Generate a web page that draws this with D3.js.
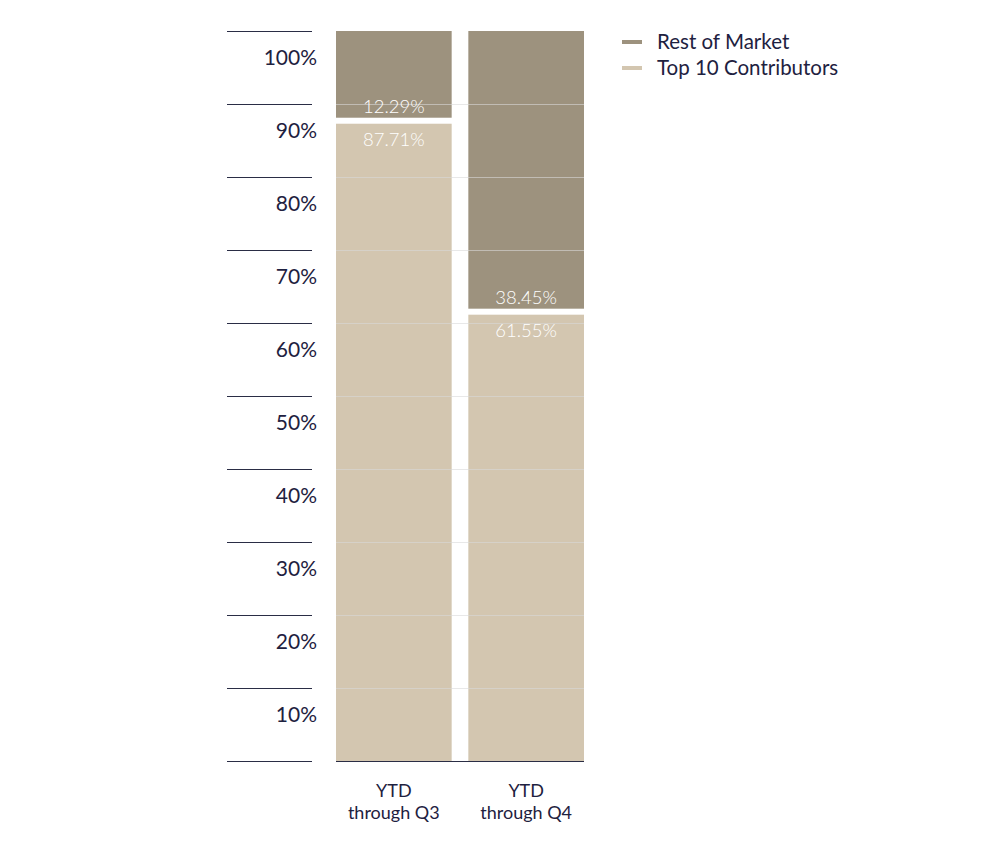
<!DOCTYPE html>
<html><head><meta charset="utf-8">
<script src="https://cdn.jsdelivr.net/npm/d3@7"></script>
<style>body{margin:0;background:#fff;} svg{display:block;font-family:"Lato","Open Sans",sans-serif;}</style>
</head><body>
<svg id="c" width="1000" height="846"></svg>
<script>
const categories = [["YTD","through Q3"],["YTD","through Q4"]];
const series = ["Rest of Market","Top 10 Contributors"];
const restOfMarket = [12.29, 38.45];
const top10 = [87.71, 61.55];
const yTicks = [0,10,20,30,40,50,60,70,80,90,100];
const colors = {"Rest of Market":"#9d927e","Top 10 Contributors":"#d3c6b0"};
const textColor = "#1e2140";

const svg = d3.select("#c");
const y = d3.scaleLinear().domain([0,100]).range([761,31]);
const x = d3.scaleBand().domain([0,1]).range([336,584]).paddingInner(0.126).paddingOuter(0);

// y axis tick lines and labels
const ya = svg.append("g");
ya.selectAll("line").data(yTicks).join("line")
  .attr("x1",227).attr("x2",312).attr("y1",d=>y(d)+0.5).attr("y2",d=>y(d)+0.5)
  .attr("stroke","#2a2d45").attr("stroke-width",1);
ya.selectAll("text").data(yTicks.filter(d=>d>0)).join("text")
  .attr("x",317).attr("y",d=>y(d)+34).attr("text-anchor","end")
  .attr("fill",textColor).attr("font-size",21).attr("font-weight",400).text(d=>d+"%");

// bars
const gap = 3;
const bars = svg.append("g");
categories.forEach((c,i)=>{
  const b = y(top10[i]);
  bars.append("rect").attr("x",x(i)).attr("width",x.bandwidth())
    .attr("y",y(100)).attr("height",b-gap-y(100)).attr("fill",colors["Rest of Market"]);
  bars.append("rect").attr("x",x(i)).attr("width",x.bandwidth())
    .attr("y",b+gap).attr("height",y(0)-b-gap).attr("fill",colors["Top 10 Contributors"]);
});

// gridlines over bars
svg.append("g").selectAll("line").data(yTicks.filter(d=>d>0&&d<100)).join("line")
  .attr("x1",336).attr("x2",584).attr("y1",d=>y(d)+0.5).attr("y2",d=>y(d)+0.5)
  .attr("stroke","#d8d8d8").attr("stroke-opacity",0.6).attr("stroke-width",1);

// value labels
categories.forEach((c,i)=>{
  const b = y(top10[i]);
  const cx = x(i)+x.bandwidth()/2;
  svg.append("text").attr("x",cx).attr("y",b-8).attr("text-anchor","middle")
    .attr("fill","#fff").attr("font-size",18.5).attr("font-weight",300).text(restOfMarket[i].toFixed(2)+"%");
  svg.append("text").attr("x",cx).attr("y",b+25).attr("text-anchor","middle")
    .attr("fill","#fff").attr("font-size",18.5).attr("font-weight",300).text(top10[i].toFixed(2)+"%");
});

// bottom axis line
svg.append("line").attr("x1",336).attr("x2",584).attr("y1",761.5).attr("y2",761.5)
  .attr("stroke","#2a2d45").attr("stroke-width",1);

// x labels
categories.forEach((c,i)=>{
  const cx = x(i)+x.bandwidth()/2;
  const t = svg.append("text").attr("text-anchor","middle").attr("fill",textColor)
    .attr("font-size",18).attr("font-weight",400);
  t.append("tspan").attr("x",cx).attr("y",797).text(c[0]);
  t.append("tspan").attr("x",cx).attr("y",819).text(c[1]);
});

// legend
const lg = svg.append("g");
series.forEach((s,i)=>{
  const yy = 42 + i*26;
  lg.append("line").attr("x1",622).attr("x2",642).attr("y1",yy).attr("y2",yy)
    .attr("stroke",colors[s]).attr("stroke-width",4);
  lg.append("text").attr("x",657).attr("y",yy+7).attr("fill",textColor)
    .attr("font-size",20.5).attr("font-weight",400).text(s);
});
</script>
</body></html>
